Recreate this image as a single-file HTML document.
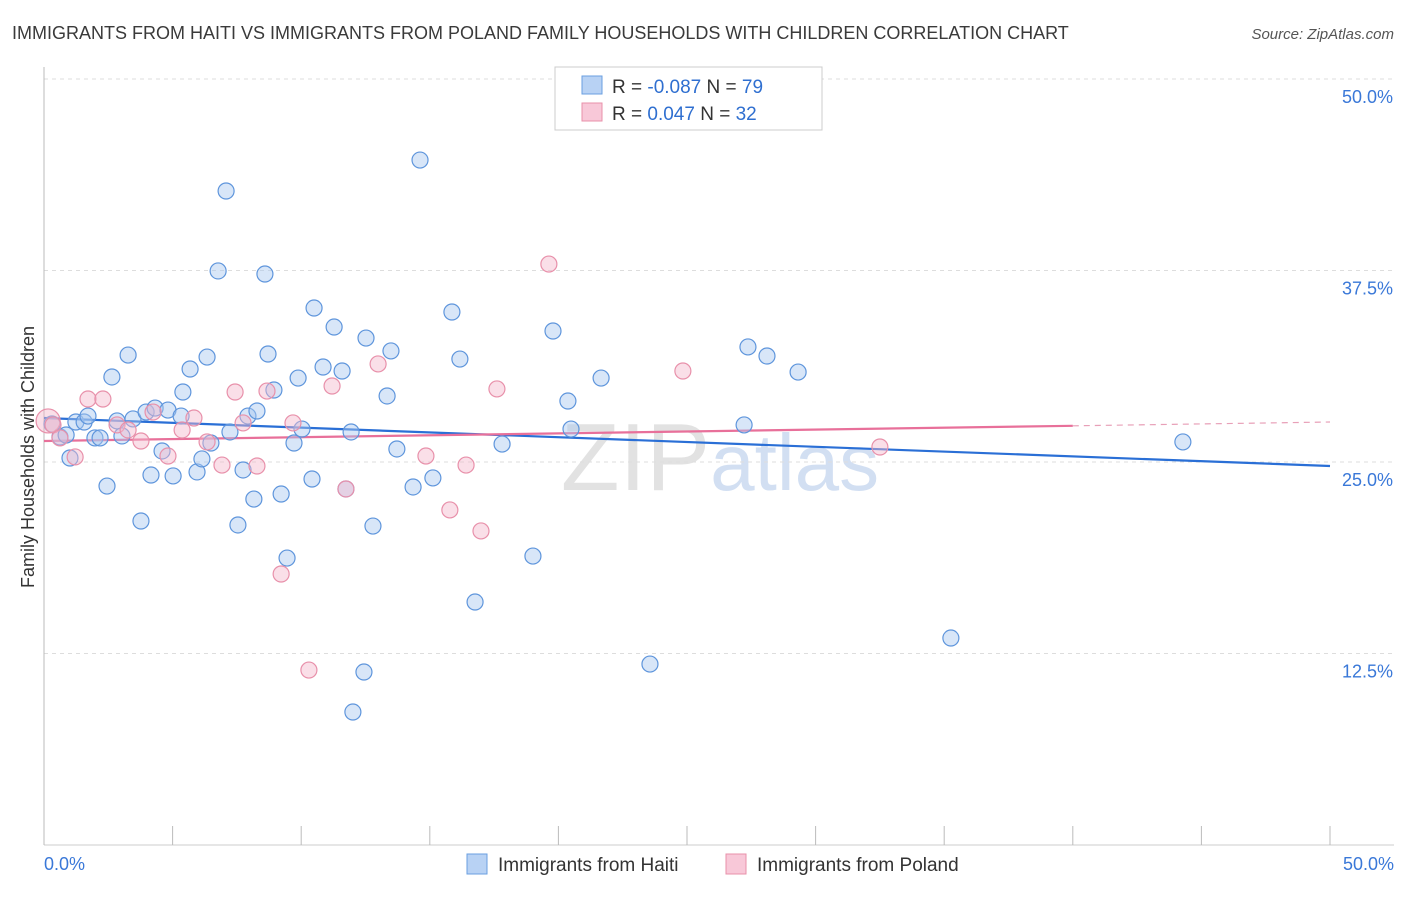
<!DOCTYPE html>
<html><head><meta charset="utf-8"><style>
body{margin:0;background:#fff;font-family:"Liberation Sans",sans-serif;}
svg text{font-family:"Liberation Sans",sans-serif;}
</style></head><body>
<svg id="chart" width="1406" height="892" xmlns="http://www.w3.org/2000/svg">
<text x="12" y="39" font-size="18" fill="#3a3a3a">IMMIGRANTS FROM HAITI VS IMMIGRANTS FROM POLAND FAMILY HOUSEHOLDS WITH CHILDREN CORRELATION CHART</text>
<text x="1394" y="39" font-size="15" fill="#555" text-anchor="end" font-style="italic">Source: ZipAtlas.com</text>
<text x="720" y="490" font-size="96" text-anchor="middle" fill="#dcdcdc" font-family="Liberation Serif" opacity="0.8">ZIP<tspan fill="#c8d8f0" font-family="Liberation Sans" font-size="80">atlas</tspan></text>
<g id="grid"></g>
<g id="axes"></g>
<g id="trends"></g>
<g id="points"></g>
<text transform="translate(34,457) rotate(-90)" font-size="18" fill="#333" text-anchor="middle">Family Households with Children</text>
<g>
<rect x="555" y="67" width="267" height="63" fill="#fff" stroke="#ccc"/>
<rect x="582" y="76" width="20" height="18" fill="#b8d2f4" stroke="#6a9fe0"/>
<text x="612" y="93" font-size="19" fill="#333">R = <tspan fill="#2f6fd0">-0.087</tspan>   N = <tspan fill="#2f6fd0">79</tspan></text>
<rect x="582" y="103" width="20" height="18" fill="#f8c8d8" stroke="#e890aa"/>
<text x="612" y="120" font-size="19" fill="#333">R =  <tspan fill="#2f6fd0"> 0.047</tspan>   N = <tspan fill="#2f6fd0">32</tspan></text>
</g>
<g>
<rect x="467" y="854" width="20" height="20" fill="#b8d2f4" stroke="#6a9fe0"/>
<text x="498" y="871" font-size="19" fill="#333">Immigrants from Haiti</text>
<rect x="726" y="854" width="20" height="20" fill="#f8c8d8" stroke="#e890aa"/>
<text x="757" y="871" font-size="19" fill="#333">Immigrants from Poland</text>
</g>
</svg>
<script>
const haitiX=[.31,.62,.86,1.01,1.24,1.56,1.71,1.98,2.18,2.45,2.64,2.84,3.03,3.27,3.46,3.77,3.97,4.16,4.32,4.59,4.82,5.02,5.33,5.40,5.68,5.95,6.14,6.34,6.49,6.77,7.08,7.23,7.54,7.74,7.93,8.16,8.28,8.59,8.71,8.94,9.22,9.45,9.72,9.88,10.03,10.42,10.50,10.85,11.28,11.59,11.74,11.94,12.01,12.44,12.52,12.79,13.34,13.49,13.72,14.35,14.62,15.12,15.86,16.17,16.76,17.81,19.01,19.79,20.37,20.49,21.66,23.56,27.22,27.37,28.11,29.32,35.26,44.28];
const haitiY=[27.48,26.63,26.76,25.26,27.61,27.61,28.00,26.57,26.57,23.43,30.55,27.68,26.70,31.98,27.81,21.15,28.26,24.15,28.52,25.72,28.39,24.09,28.00,29.57,31.07,24.35,25.20,31.85,26.24,37.47,42.69,26.96,20.89,24.48,28.00,22.58,28.33,37.27,32.05,29.70,22.91,18.73,26.24,30.48,27.15,23.89,35.05,31.20,33.81,30.94,23.24,26.96,8.68,11.29,33.09,20.82,29.31,32.25,25.85,23.37,44.71,23.96,34.79,31.72,15.86,26.17,18.86,33.55,28.98,27.15,30.48,11.81,27.42,32.51,31.92,30.87,13.51,26.31];
const polandX=[.16,.35,.62,1.21,1.71,2.29,2.84,3.27,3.77,4.24,4.82,5.37,5.83,6.34,6.92,7.43,7.74,8.28,8.67,9.22,9.68,10.30,11.20,11.74,12.99,14.85,15.78,16.41,16.99,17.61,19.63,24.84,32.50];
const polandY=[27.68,27.42,26.57,25.33,29.11,29.11,27.42,27.09,26.37,28.26,25.39,27.09,27.87,26.31,24.80,29.57,27.55,24.74,29.63,17.69,27.55,11.42,29.96,23.24,31.40,25.39,21.87,24.80,20.50,29.77,37.92,30.94,25.98];
const haitiTrend=[27.87,24.74];
const polandTrend=[26.37,27.61];
const yTicks=[12.5,25,37.5,50];
const yTickLabels=["12.5%","25.0%","37.5%","50.0%"];
const xTicks=[0,5,10,15,20,25,30,35,40,45,50];
const NS="http://www.w3.org/2000/svg";
const X=v=>44+v*25.72, Y=v=>845-v*15.32;
function mk(p,t,a){const e=document.createElementNS(NS,t);for(const k in a)e.setAttribute(k,a[k]);p.appendChild(e);return e;}
const grid=document.getElementById('grid'),axes=document.getElementById('axes'),tr=document.getElementById('trends'),pts=document.getElementById('points');
yTicks.forEach((v,i)=>{
 const l=mk(grid,'line',{x1:44,x2:1394,y1:Y(v),y2:Y(v),stroke:'#ddd','stroke-dasharray':'4,4'});
 
 
 const t=mk(axes,'text',{x:1393,y:Y(v)+24,'font-size':18,fill:'#3a78d8','text-anchor':'end'});t.textContent=yTickLabels[i];
 
 
});
mk(axes,'line',{x1:44,x2:44,y1:67,y2:845,stroke:'#bbb'});
mk(axes,'line',{x1:44,x2:1394,y1:845,y2:845,stroke:'#ccc'});
xTicks.forEach(v=>{const l=mk(axes,'line',{x1:X(v),x2:X(v),y1:826,y2:845,stroke:'#bbb'});
 
 });
let t0=mk(axes,'text',{x:44,y:870,'font-size':18,fill:'#3a78d8'});t0.textContent='0.0%';


let t1=mk(axes,'text',{x:1394,y:870,'font-size':18,fill:'#3a78d8','text-anchor':'end'});t1.textContent='50.0%';


function dot(x,y,fill,stroke,r,name){const c=mk(pts,'circle',{cx:X(x),cy:Y(y),r:r,fill:fill,stroke:stroke,'fill-opacity':0.45,'stroke-width':1.2});
 
 }
haitiX.forEach((x,i)=>dot(x,haitiY[i],'#a8c8f0','#5e95dc',8,'haiti-point'));
polandX.forEach((x,i)=>dot(x,polandY[i],'#f5b8cc','#e890aa',i==0?12:8,'poland-point'));
const lerp=(a,v)=>a[0]+(a[1]-a[0])*v/50;
let b=mk(tr,'line',{x1:X(0),y1:Y(lerp(haitiTrend,0)),x2:X(50),y2:Y(lerp(haitiTrend,50)),stroke:'#2a6fd6','stroke-width':2.2});


let p=mk(tr,'line',{x1:X(0),y1:Y(lerp(polandTrend,0)),x2:X(40),y2:Y(lerp(polandTrend,40)),stroke:'#e8709a','stroke-width':2.2});


let pd=mk(tr,'line',{x1:X(40),y1:Y(lerp(polandTrend,40)),x2:X(50),y2:Y(lerp(polandTrend,50)),stroke:'#e8a0b8','stroke-width':1.2,'stroke-dasharray':'6,5'});


</script>
</body></html>
